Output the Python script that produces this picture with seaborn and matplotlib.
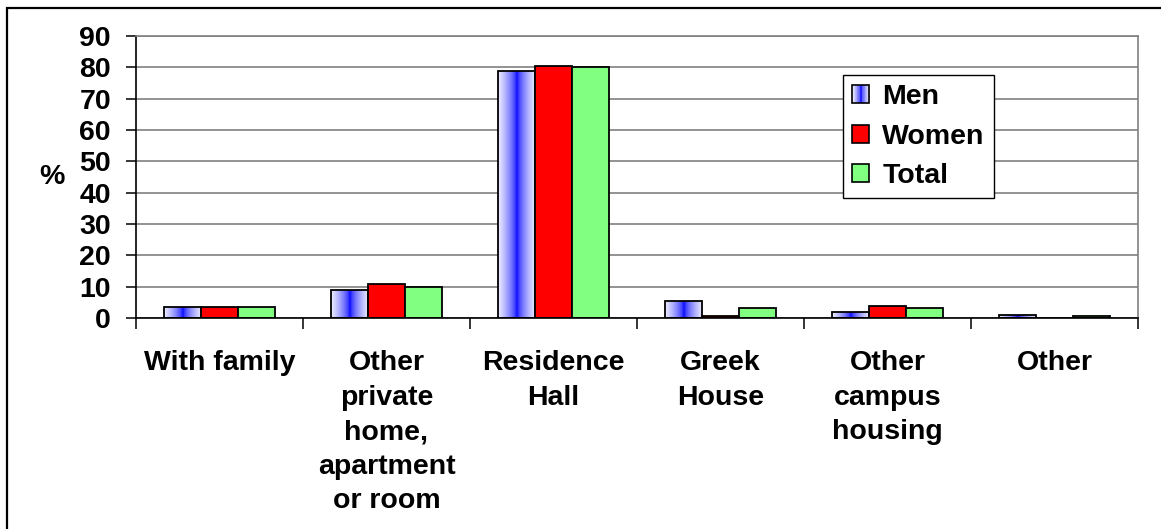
import numpy as np
import pandas as pd
import matplotlib
matplotlib.use("Agg")
import matplotlib.pyplot as plt
import seaborn as sns
from matplotlib.patches import Rectangle, Patch
from matplotlib.legend_handler import HandlerBase

# Where students live (% of respondents)
categories = ["With family", "Other\nprivate\nhome,\napartment\nor room", "Residence\nHall",
              "Greek\nHouse", "Other\ncampus\nhousing", "Other"]
series = ["Men", "Women", "Total"]
men = [3.5, 9.0, 78.9, 5.5, 2.0, 1.1]
women = [3.4, 11.0, 80.5, 0.5, 3.9, 0.0]
total = [3.6, 10.0, 80.1, 3.1, 3.1, 0.6]
yticks = list(range(0, 91, 10))

sns.set_theme(style="white")
plt.rcParams["font.family"] = ["Liberation Sans", "DejaVu Sans"]
plt.rcParams["font.weight"] = "bold"
for key in ["text.color", "axes.labelcolor", "xtick.color", "ytick.color"]:
    plt.rcParams[key] = "black"

FS = 20.5

df = pd.DataFrame({
    "category": categories * 3,
    "series": [s for s in series for _ in categories],
    "value": men + women + total,
})

W, H = 1161, 529
fig = plt.figure(figsize=(W / 100, H / 100), dpi=100)
ax = fig.add_axes([136 / W, 1 - 318 / H, 1002 / W, 282 / H])

palette = {"Men": "#0000FF", "Women": "#FF0000", "Total": "#80FF80"}
sns.barplot(data=df, x="category", y="value", hue="series", order=categories,
            hue_order=series, palette=palette, saturation=1, width=0.67,
            edgecolor="black", linewidth=1.3, legend=False, ax=ax)


def men_gradient(n=64):
    t = np.linspace(0, 1, n)
    w = np.abs(2 * t - 1) ** 0.6 * 0.93
    rgb = np.stack([w, w, np.ones_like(w)], axis=-1)
    return rgb[np.newaxis, :, :]


# Shade the Men bars with a white-blue-white horizontal gradient
grad = men_gradient()
for bar in ax.containers[0]:
    x0, w, h = bar.get_x(), bar.get_width(), bar.get_height()
    if h <= 0:
        continue
    bar.set_facecolor("none")
    im = ax.imshow(grad, extent=[x0, x0 + w, 0, h], aspect="auto",
                   interpolation="bilinear", zorder=bar.get_zorder() - 0.01)
    im.set_clip_path(bar)

ax.set_xlim(-0.5, len(categories) - 0.5)
ax.set_ylim(0, 90)
ax.set_aspect("auto")

ax.set_axisbelow(True)
ax.yaxis.grid(True, color="#808080", linewidth=1.2)
ax.xaxis.grid(False)

for side in ["left", "bottom"]:
    ax.spines[side].set_color("black")
    ax.spines[side].set_linewidth(1.2)
for side in ["top", "right"]:
    ax.spines[side].set_color("#808080")
    ax.spines[side].set_linewidth(1.2)

ax.set_yticks(yticks)
ax.set_yticklabels([str(v) for v in yticks], fontsize=FS, fontweight="bold")
ax.tick_params(axis="y", left=True, direction="out", length=7, width=1.1,
               color="black", labelcolor="black", pad=11)

ax.set_xticks(range(len(categories)))
ax.set_xticklabels(categories, fontsize=FS, fontweight="bold", linespacing=1.43)
ax.tick_params(axis="x", which="major", bottom=True, length=0, pad=23, labelcolor="black")
ax.set_xticks(np.arange(-0.5, len(categories), 1), minor=True)
ax.tick_params(axis="x", which="minor", bottom=True, direction="out", length=8,
               width=1.1, color="black")
ax.set_xlabel("")

ax.set_ylabel("%", rotation=0, fontsize=FS, fontweight="bold", color="black",
              ha="center", va="center")
ax.yaxis.set_label_coords(-0.084, 0.5)


class GradientHandler(HandlerBase):
    def create_artists(self, legend, orig_handle, xdescent, ydescent, width, height,
                       fontsize, trans):
        n = 24
        colors = men_gradient(n)[0]
        arts = []
        for i in range(n):
            r = Rectangle((-xdescent + width * i / n, -ydescent), width / n + 0.2, height,
                          facecolor=colors[i], edgecolor="none", transform=trans)
            arts.append(r)
        arts.append(Rectangle((-xdescent, -ydescent), width, height, facecolor="none",
                              edgecolor="black", linewidth=1.2, transform=trans))
        return arts


handles = [Patch(facecolor="#0000FF", edgecolor="black"),
           Patch(facecolor=palette["Women"], edgecolor="black", linewidth=1.2),
           Patch(facecolor=palette["Total"], edgecolor="black", linewidth=1.2)]
leg = ax.legend(handles, series, loc="upper left", bbox_to_anchor=(0.7056, 0.862),
                borderaxespad=0, frameon=True, fancybox=False, framealpha=1,
                edgecolor="black", prop={"size": FS, "weight": "bold"},
                handlelength=0.6, handleheight=0.6, handletextpad=0.45,
                labelspacing=0.47, borderpad=0.33,
                handler_map={handles[0]: GradientHandler()})
leg.get_frame().set_linewidth(1.0)
for t in leg.get_texts():
    t.set_color("black")

# Outer frame around the chart
fig.patches.append(Rectangle((7 / W, -0.1), 1.2, 1.1 - 8 / H, transform=fig.transFigure,
                             fill=False, edgecolor="black", linewidth=1.6, clip_on=False))

fig.savefig("out.png", dpi=100)
